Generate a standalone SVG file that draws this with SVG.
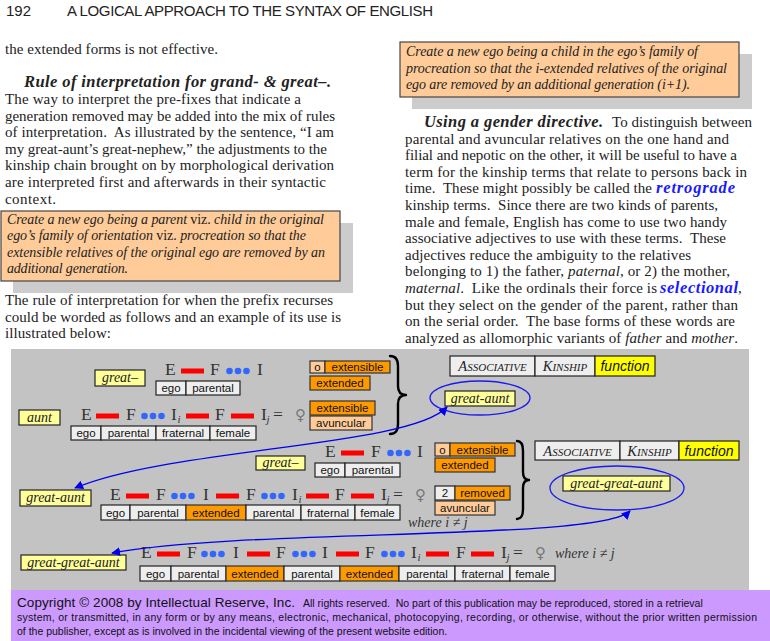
<svg xmlns="http://www.w3.org/2000/svg" width="770" height="641" viewBox="0 0 770 641">
<style>
.hd{font-family:"Liberation Sans",Arial,sans-serif;font-size:15px;fill:#222}
.bt{font-family:"Liberation Serif","Times New Roman",serif;font-size:15px;fill:#222}
.bi{font-style:italic;font-weight:bold;font-size:16.5px}
.it{font-style:italic}
.blue{fill:#1a1aff}
.nt{font-family:"Liberation Serif","Times New Roman",serif;font-size:14px;font-style:italic;fill:#222}
.up{font-style:normal}
.nbox{fill:#ffcc99;stroke:#444;stroke-width:1.2}
.shad{fill:#cccccc}
.gbox{fill:#eeeeee;stroke:#222;stroke-width:1.2}
.obox{fill:#ff9900;stroke:#333;stroke-width:1.2}
.lbox{fill:#ffcc99;stroke:#333;stroke-width:1.2}
.ybox{fill:#ffff99;stroke:#222;stroke-width:1.2}
.fbox{fill:#ffff00;stroke:#222;stroke-width:1.2}
.lab{font-family:"Liberation Sans",Arial,sans-serif;font-size:11.5px;fill:#111;text-anchor:middle}
.ylab{font-family:"Liberation Serif","Times New Roman",serif;font-style:italic;font-size:14px;fill:#222;text-anchor:middle}
.sc{font-family:"Liberation Serif","Times New Roman",serif;font-style:italic;fill:#222;text-anchor:middle}
.fn{font-family:"Liberation Sans",Arial,sans-serif;font-style:italic;font-size:14px;fill:#111;text-anchor:middle}
.sym{font-family:"Liberation Serif","Times New Roman",serif;font-size:17.5px;fill:#333}
.sub{font-family:"Liberation Serif","Times New Roman",serif;font-size:11px;font-style:italic;fill:#333}
.fem{font-family:"DejaVu Sans",sans-serif;font-size:15px;fill:#777}
.wh{font-family:"Liberation Serif","Times New Roman",serif;font-size:14px;font-style:italic;fill:#333}
.bar{fill:#ff0000}
.dot{fill:#3366ff}
.brace{fill:none;stroke:#000;stroke-width:2.4;stroke-linecap:round;stroke-linejoin:round}
.conn{fill:none;stroke:#0000ee;stroke-width:1.3}
.ell{fill:none;stroke:#1a1aee;stroke-width:1.3}
.ft1{font-family:"Liberation Sans",Arial,sans-serif;font-size:13.5px;fill:#111}
.ft2{font-family:"Liberation Sans",Arial,sans-serif;font-size:10.5px;fill:#111}
</style>
<defs>
<marker id="ah" viewBox="0 0 10 10" refX="9" refY="5" markerWidth="9" markerHeight="9" markerUnits="userSpaceOnUse" orient="auto-start-reverse">
<path d="M0,0 L10,5 L0,10 z" fill="#0000ee"/>
</marker>
</defs>
<rect width="770" height="641" fill="#ffffff"/>

<g id="header">
<text class="hd" x="6" y="16">192</text>
<text class="hd" x="67" y="16" textLength="366">A LOGICAL APPROACH TO THE SYNTAX OF ENGLISH</text>
</g>

<g id="left-column">
<text class="bt" x="5" y="54" textLength="213">the extended forms is not effective.</text>
<text class="bt bi" x="24" y="87" textLength="307">Rule of interpretation for grand- &amp; great–.</text>
<text class="bt" x="5" y="104" textLength="296">The way to interpret the pre-fixes that indicate a</text>
<text class="bt" x="5" y="120.6" textLength="330">generation removed may be added into the mix of rules</text>
<text class="bt" x="5" y="137.2" textLength="329" xml:space="preserve">of interpretation.  As illustrated by the sentence, “I am</text>
<text class="bt" x="5" y="153.8" textLength="322">my great-aunt’s great-nephew,” the adjustments to the</text>
<text class="bt" x="5" y="170.4" textLength="329">kinship chain brought on by morphological derivation</text>
<text class="bt" x="5" y="187" textLength="321">are interpreted first and afterwards in their syntactic</text>
<text class="bt" x="5" y="203.6" textLength="51">context.</text>
<text class="bt" x="5" y="305" textLength="328">The rule of interpretation for when the prefix recurses</text>
<text class="bt" x="5" y="321.6" textLength="336">could be worded as follows and an example of its use is</text>
<text class="bt" x="5" y="338.2" textLength="106">illustrated below:</text>
</g>

<g id="note-left">
<rect class="shad" x="13" y="223" width="340" height="70"/>
<rect class="nbox" x="1" y="211" width="339" height="70"/>
<text class="nt" x="7" y="223.5" textLength="317">Create a new ego being a parent <tspan class="up">viz.</tspan> child in the original</text>
<text class="nt" x="7" y="240" textLength="299">ego’s family of orientation <tspan class="up">viz.</tspan> procreation so that the</text>
<text class="nt" x="7" y="256.5" textLength="318">extensible relatives of the original ego are removed by an</text>
<text class="nt" x="7" y="273" textLength="121">additional generation.</text>
</g>

<g id="note-right">
<rect class="shad" x="412" y="54" width="340" height="55"/>
<rect class="nbox" x="400" y="42" width="339" height="55"/>
<text class="nt" x="406" y="56" textLength="292">Create a new ego being a child in the ego’s family of</text>
<text class="nt" x="406" y="72.5" textLength="321">procreation so that the i-extended relatives of the original</text>
<text class="nt" x="406" y="89" textLength="284">ego are removed by an additional generation (i+1).</text>
</g>

<g id="right-column">
<text class="bt bi" x="424" y="127" textLength="179">Using a gender directive.</text>
<text class="bt" x="612" y="127" textLength="140">To distinguish between</text>
<text class="bt" x="405" y="143.6" textLength="324">parental and avuncular relatives on the one hand and</text>
<text class="bt" x="405" y="160.2" textLength="332">filial and nepotic on the other, it will be useful to have a</text>
<text class="bt" x="405" y="176.8" textLength="342">term for the kinship terms that relate to persons back in</text>
<text class="bt" x="405" y="193.4" textLength="247" xml:space="preserve">time.  These might possibly be called the</text>
<text class="bt bi blue" x="656" y="193.4" textLength="79">retrograde</text>
<text class="bt" x="405" y="210" textLength="313" xml:space="preserve">kinship terms.  Since there are two kinds of parents,</text>
<text class="bt" x="405" y="226.6" textLength="322">male and female, English has come to use two handy</text>
<text class="bt" x="405" y="243.2" textLength="321" xml:space="preserve">associative adjectives to use with these terms.  These</text>
<text class="bt" x="405" y="259.8" textLength="286">adjectives reduce the ambiguity to the relatives</text>
<text class="bt" x="405" y="276.4" textLength="325">belonging to 1) the father, <tspan class="it">paternal</tspan>, or 2) the mother,</text>
<text class="bt" x="405" y="293" textLength="252" xml:space="preserve"><tspan class="it">maternal</tspan>.  Like the ordinals their force is</text>
<text class="bt bi blue" x="660" y="293" textLength="78">selectional</text>
<text class="bt" x="738" y="293">,</text>
<text class="bt" x="405" y="309.6" textLength="333">but they select on the gender of the parent, rather than</text>
<text class="bt" x="405" y="326.2" textLength="330" xml:space="preserve">on the serial order.  The base forms of these words are</text>
<text class="bt" x="405" y="342.8" textLength="333">analyzed as allomorphic variants of <tspan class="it">father</tspan> and <tspan class="it">mother</tspan>.</text>
</g>

<rect id="diagram-bg" x="11" y="349" width="738" height="241" fill="#c3c3c3"/>

<g id="row1-great">
<rect class="ybox" x="95" y="370" width="50" height="16"/>
<text class="ylab" x="120" y="382">great–</text>
<text class="sym" x="165" y="375">E</text>
<rect class="bar" x="181" y="368.5" width="23" height="5"/>
<text class="sym" x="210" y="375">F</text>
<circle class="dot" cx="229.5" cy="371" r="3.3"/><circle class="dot" cx="238" cy="371" r="3.3"/><circle class="dot" cx="246.5" cy="371" r="3.3"/>
<text class="sym" x="257" y="375">I</text>
<rect class="gbox" x="156" y="381" width="30" height="14"/><text class="lab" x="171" y="392">ego</text>
<rect class="gbox" x="186" y="381" width="54" height="14"/><text class="lab" x="213" y="392">parental</text>
<rect class="lbox" x="310" y="361" width="15" height="12"/><text class="lab" x="317.5" y="371">o</text>
<rect class="obox" x="325" y="361" width="65" height="12"/><text class="lab" x="357.5" y="371">extensible</text>
<rect class="obox" x="310" y="376" width="60" height="14"/><text class="lab" x="340" y="387">extended</text>
</g>

<g id="row2-aunt">
<rect class="ybox" x="19" y="410" width="41" height="15"/>
<text class="ylab" x="39.5" y="422">aunt</text>
<text class="sym" x="81" y="420">E</text>
<rect class="bar" x="96" y="413.5" width="23" height="5"/>
<text class="sym" x="126" y="420">F</text>
<circle class="dot" cx="144.5" cy="416" r="3.3"/><circle class="dot" cx="153" cy="416" r="3.3"/><circle class="dot" cx="161.5" cy="416" r="3.3"/>
<text class="sym" x="171" y="420">I</text><text class="sub" x="177.5" y="423">i</text>
<rect class="bar" x="186" y="413.5" width="23" height="5"/>
<text class="sym" x="215" y="420">F</text>
<rect class="bar" x="231" y="413.5" width="23" height="5"/>
<text class="sym" x="261" y="420">I</text><text class="sub" x="266.5" y="423">j</text>
<text class="sym" x="273" y="420">=</text>
<text class="fem" x="295" y="420">♀</text>
<rect class="gbox" x="71" y="426" width="30" height="14"/><text class="lab" x="86" y="437">ego</text>
<rect class="gbox" x="101" y="426" width="55" height="14"/><text class="lab" x="128.5" y="437">parental</text>
<rect class="gbox" x="156" y="426" width="54" height="14"/><text class="lab" x="183" y="437">fraternal</text>
<rect class="gbox" x="210" y="426" width="46" height="14"/><text class="lab" x="233" y="437">female</text>
<rect class="obox" x="310" y="401" width="65" height="14"/><text class="lab" x="342.5" y="412">extensible</text>
<rect class="lbox" x="310" y="416" width="62" height="14"/><text class="lab" x="341" y="427">avuncular</text>
<path class="brace" d="M390,356 Q398,356 398,366 L398,386 Q398,395 406,395 Q398,395 398,404 L398,424 Q398,434 390,434"/>
</g>

<g id="result1">
<rect class="gbox" x="450" y="356" width="85" height="20"/>
<text class="sc" x="492.5" y="371"><tspan font-size="14.5">A</tspan><tspan font-size="11">SSOCIATIVE</tspan></text>
<rect class="gbox" x="535" y="356" width="60" height="20"/>
<text class="sc" x="565" y="371"><tspan font-size="14.5">K</tspan><tspan font-size="11">INSHIP</tspan></text>
<rect class="fbox" x="595" y="356" width="60" height="20"/>
<text class="fn" x="625" y="371">function</text>
<ellipse class="ell" cx="480" cy="398" rx="50" ry="17"/>
<rect class="ybox" x="445" y="391" width="70" height="15"/>
<text class="ylab" x="480" y="403">great-aunt</text>
</g>

<g id="row3-great">
<rect class="ybox" x="256" y="456" width="49" height="14"/>
<text class="ylab" x="280.5" y="467">great–</text>
<text class="sym" x="325" y="457">E</text>
<rect class="bar" x="341" y="450.5" width="23" height="5"/>
<text class="sym" x="371" y="457">F</text>
<circle class="dot" cx="390.5" cy="453" r="3.3"/><circle class="dot" cx="399" cy="453" r="3.3"/><circle class="dot" cx="407.5" cy="453" r="3.3"/>
<text class="sym" x="417" y="457">I</text>
<rect class="gbox" x="315" y="463" width="30" height="14"/><text class="lab" x="330" y="474">ego</text>
<rect class="gbox" x="345" y="463" width="55" height="14"/><text class="lab" x="372.5" y="474">parental</text>
<rect class="lbox" x="435" y="443" width="15" height="13"/><text class="lab" x="442.5" y="453.5">o</text>
<rect class="obox" x="450" y="443" width="65" height="13"/><text class="lab" x="482.5" y="453.5">extensible</text>
<rect class="obox" x="435" y="458" width="60" height="14"/><text class="lab" x="465" y="469">extended</text>
</g>

<g id="row4-great-aunt">
<rect class="ybox" x="20" y="490" width="71" height="16"/>
<text class="ylab" x="55.5" y="502">great-aunt</text>
<text class="sym" x="110" y="500">E</text>
<rect class="bar" x="126" y="493.5" width="23" height="5"/>
<text class="sym" x="156" y="500">F</text>
<circle class="dot" cx="174.5" cy="496" r="3.3"/><circle class="dot" cx="183" cy="496" r="3.3"/><circle class="dot" cx="191.5" cy="496" r="3.3"/>
<text class="sym" x="203" y="500">I</text>
<rect class="bar" x="216" y="493.5" width="23" height="5"/>
<text class="sym" x="246" y="500">F</text>
<circle class="dot" cx="264.5" cy="496" r="3.3"/><circle class="dot" cx="273" cy="496" r="3.3"/><circle class="dot" cx="281.5" cy="496" r="3.3"/>
<text class="sym" x="292" y="500">I</text><text class="sub" x="298.5" y="503">i</text>
<rect class="bar" x="306" y="493.5" width="23" height="5"/>
<text class="sym" x="335" y="500">F</text>
<rect class="bar" x="351" y="493.5" width="23" height="5"/>
<text class="sym" x="381" y="500">I</text><text class="sub" x="386.5" y="503">j</text>
<text class="sym" x="393" y="500">=</text>
<text class="fem" x="415" y="500">♀</text>
<rect class="gbox" x="101" y="505" width="29" height="15"/><text class="lab" x="115.5" y="516.5">ego</text>
<rect class="gbox" x="130" y="505" width="56" height="15"/><text class="lab" x="158" y="516.5">parental</text>
<rect class="obox" x="186" y="505" width="60" height="15"/><text class="lab" x="216" y="516.5">extended</text>
<rect class="gbox" x="246" y="505" width="55" height="15"/><text class="lab" x="273.5" y="516.5">parental</text>
<rect class="gbox" x="301" y="505" width="54" height="15"/><text class="lab" x="328" y="516.5">fraternal</text>
<rect class="gbox" x="355" y="505" width="45" height="15"/><text class="lab" x="377.5" y="516.5">female</text>
<rect class="gbox" x="435" y="486" width="20" height="14"/><text class="lab" x="445" y="497">2</text>
<rect class="obox" x="455" y="486" width="55" height="14"/><text class="lab" x="482.5" y="497">removed</text>
<rect class="lbox" x="435" y="501" width="60" height="14"/><text class="lab" x="465" y="512">avuncular</text>
<text class="wh" x="408" y="527">where i ≠ j</text>
<path class="brace" d="M517,441 Q523,441 523,451 L523,472 Q523,480 529,480 Q523,480 523,488 L523,509 Q523,519 517,519"/>
</g>

<g id="result2">
<rect class="gbox" x="535" y="441" width="85" height="19"/>
<text class="sc" x="577.5" y="456"><tspan font-size="14.5">A</tspan><tspan font-size="11">SSOCIATIVE</tspan></text>
<rect class="gbox" x="620" y="441" width="59" height="19"/>
<text class="sc" x="649.5" y="456"><tspan font-size="14.5">K</tspan><tspan font-size="11">INSHIP</tspan></text>
<rect class="fbox" x="679" y="441" width="60" height="19"/>
<text class="fn" x="709" y="456">function</text>
<ellipse class="ell" cx="617" cy="488" rx="67" ry="22"/>
<rect class="ybox" x="563" y="476" width="107" height="15"/>
<text class="ylab" x="616.5" y="488">great-great-aunt</text>
</g>

<g id="row5-great-great-aunt">
<rect class="ybox" x="21" y="555" width="105" height="15"/>
<text class="ylab" x="73.5" y="567">great-great-aunt</text>
<text class="sym" x="141" y="558">E</text>
<rect class="bar" x="157" y="551.5" width="23" height="5"/>
<text class="sym" x="187" y="558">F</text>
<circle class="dot" cx="204.5" cy="554" r="3.3"/><circle class="dot" cx="213" cy="554" r="3.3"/><circle class="dot" cx="221.5" cy="554" r="3.3"/>
<text class="sym" x="233" y="558">I</text>
<rect class="bar" x="247" y="551.5" width="23" height="5"/>
<text class="sym" x="276" y="558">F</text>
<circle class="dot" cx="295.5" cy="554" r="3.3"/><circle class="dot" cx="304" cy="554" r="3.3"/><circle class="dot" cx="312.5" cy="554" r="3.3"/>
<text class="sym" x="322" y="558">I</text>
<rect class="bar" x="336" y="551.5" width="23" height="5"/>
<text class="sym" x="365" y="558">F</text>
<circle class="dot" cx="384.5" cy="554" r="3.3"/><circle class="dot" cx="393" cy="554" r="3.3"/><circle class="dot" cx="401.5" cy="554" r="3.3"/>
<text class="sym" x="411" y="558">I</text><text class="sub" x="417.5" y="561">i</text>
<rect class="bar" x="426" y="551.5" width="23" height="5"/>
<text class="sym" x="456" y="558">F</text>
<rect class="bar" x="471" y="551.5" width="23" height="5"/>
<text class="sym" x="501" y="558">I</text><text class="sub" x="506.5" y="561">j</text>
<text class="sym" x="513" y="558">=</text>
<text class="fem" x="535" y="558">♀</text>
<text class="wh" x="555" y="558">where i ≠ j</text>
<rect class="gbox" x="140" y="566" width="31" height="15"/><text class="lab" x="155.5" y="577.5">ego</text>
<rect class="gbox" x="171" y="566" width="55" height="15"/><text class="lab" x="198.5" y="577.5">parental</text>
<rect class="obox" x="226" y="566" width="58" height="15"/><text class="lab" x="255" y="577.5">extended</text>
<rect class="gbox" x="284" y="566" width="56" height="15"/><text class="lab" x="312" y="577.5">parental</text>
<rect class="obox" x="340" y="566" width="59" height="15"/><text class="lab" x="369.5" y="577.5">extended</text>
<rect class="gbox" x="399" y="566" width="56" height="15"/><text class="lab" x="427" y="577.5">parental</text>
<rect class="gbox" x="455" y="566" width="55" height="15"/><text class="lab" x="482.5" y="577.5">fraternal</text>
<rect class="gbox" x="510" y="566" width="45" height="15"/><text class="lab" x="532.5" y="577.5">female</text>
</g>

<g id="connectors">
<path class="conn" d="M447,407 C410,447 170,448 75,488" marker-start="url(#ah)" marker-end="url(#ah)"/>
<path class="conn" d="M630,511 C600,541 250,528 112,553" marker-start="url(#ah)" marker-end="url(#ah)"/>
</g>

<g id="footer">
<rect x="11" y="590" width="759" height="51" fill="#cc99ff"/>
<text class="ft1" x="17" y="607" textLength="278">Copyright © 2008 by Intellectual Reserve, Inc.</text>
<text class="ft2" x="303" y="607" xml:space="preserve">All rights reserved.  No part of this publication may be reproduced, stored in a retrieval</text>
<text class="ft2" x="17" y="621" textLength="740">system, or transmitted, in any form or by any means, electronic, mechanical, photocopying, recording, or otherwise, without the prior written permission</text>
<text class="ft2" x="17" y="634.5">of the publisher, except as is involved in the incidental viewing of the present website edition.</text>
</g>
</svg>
